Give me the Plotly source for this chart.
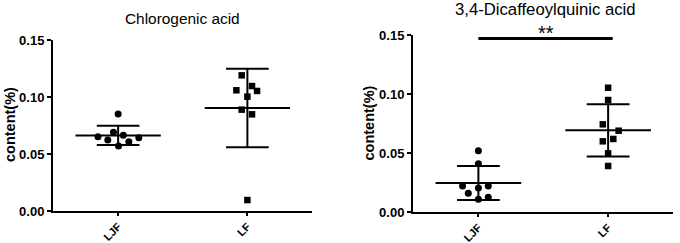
import numpy as np
import plotly.graph_objects as go

# ---- data ----
groups = ["LJF", "LF"]
titles = ["Chlorogenic acid", "3,4-Dicaffeoylquinic acid"]

chloro_ljf = [0.0652, 0.0623, 0.0690, 0.0851, 0.0570, 0.0664, 0.0608, 0.0643]
chloro_lf = [0.1190, 0.1059, 0.1096, 0.1053, 0.1003, 0.0889, 0.0848, 0.0096]
dicq_ljf = [0.0519, 0.0409, 0.0220, 0.0158, 0.0203, 0.0220, 0.0108, 0.0125]
dicq_lf = [0.1053, 0.0949, 0.0743, 0.0689, 0.0599, 0.0619, 0.0497, 0.0390]

y_ticks = [0.00, 0.05, 0.10, 0.15]
sig_label = "**"

# ---- styling / layout positions (not data) ----
jitter_chloro_ljf = [-0.156, -0.08, -0.036, 0.0, 0.003, 0.04, 0.083, 0.16]
jitter_chloro_lf = [-0.044, -0.085, 0.036, 0.075, 0.0, -0.044, 0.036, 0.0]
jitter_dicq_ljf = [0.0, 0.0, -0.122, -0.078, 0.0, 0.076, 0.0, 0.076]
jitter_dicq_lf = [0.0, 0.0, -0.041, 0.081, -0.041, 0.04, 0.0, 0.0]

W, H = 680, 243
FONT = "Liberation Sans, Arial, sans-serif"
MEAN_HW = 0.33
SD_HW = 0.165

fig = go.Figure()

panels = [
    (chloro_ljf, chloro_lf, jitter_chloro_ljf, jitter_chloro_lf, "x", "y"),
    (dicq_ljf, dicq_lf, jitter_dicq_ljf, jitter_dicq_lf, "x2", "y2"),
]

for (a, b, ja, jb, xa, ya) in panels:
    for gi, (vals, jit, sym) in enumerate([(a, ja, "circle"), (b, jb, "square")]):
        v = np.array(vals)
        m = v.mean()
        s = v.std(ddof=1)
        # mean line
        fig.add_trace(go.Scatter(x=[gi - MEAN_HW, gi + MEAN_HW], y=[m, m], mode="lines",
                                 line=dict(color="black", width=2), xaxis=xa, yaxis=ya,
                                 showlegend=False, hoverinfo="skip"))
        # SD vertical + caps
        fig.add_trace(go.Scatter(x=[gi, gi, None, gi - SD_HW, gi + SD_HW, None, gi - SD_HW, gi + SD_HW],
                                 y=[m - s, m + s, None, m + s, m + s, None, m - s, m - s],
                                 mode="lines", line=dict(color="black", width=2),
                                 xaxis=xa, yaxis=ya, showlegend=False, hoverinfo="skip"))
        # points
        fig.add_trace(go.Scatter(x=[gi + j for j in jit], y=vals, mode="markers",
                                 marker=dict(symbol=sym, size=7 if sym == "circle" else 6.5,
                                             color="black", line=dict(width=0)),
                                 xaxis=xa, yaxis=ya, showlegend=False, cliponaxis=False))

# significance bar on right panel
fig.add_trace(go.Scatter(x=[0, 1.035], y=[0.147, 0.147], mode="lines",
                         line=dict(color="black", width=3), xaxis="x2", yaxis="y2",
                         showlegend=False, hoverinfo="skip", cliponaxis=False))
fig.add_annotation(x=0.52, y=0.147, xref="x2", yref="y2", text=sig_label, showarrow=False,
                   xanchor="center", yanchor="middle", yshift=6,
                   font=dict(family=FONT, size=20, color="black"))

xaxis_common = dict(range=[-0.504, 1.5], tickmode="array", tickvals=[0, 1], ticktext=groups,
                    tickangle=-45, ticks="outside", ticklen=3, tickwidth=2, tickcolor="black",
                    showline=True, linecolor="black", linewidth=2, showgrid=False, zeroline=False,
                    automargin=False,
                    tickfont=dict(family=FONT, size=11, color="black", weight="bold"), fixedrange=True)
yaxis_common = dict(range=[0, 0.15], tickmode="array", tickvals=y_ticks,
                    ticktext=[f"{t:.2f}" for t in y_ticks],
                    ticks="outside", ticklen=4, tickwidth=2, tickcolor="black",
                    showline=True, linecolor="black", linewidth=2, showgrid=False, zeroline=False,
                    automargin=False,
                    tickfont=dict(family=FONT, size=13, color="black", weight="bold"), fixedrange=True)

fig.update_layout(
    width=W, height=H,
    margin=dict(l=0, r=0, t=0, b=0, autoexpand=False),
    paper_bgcolor="white", plot_bgcolor="white",
    xaxis=dict(domain=[53 / W, 312 / W], anchor="y", **xaxis_common),
    yaxis=dict(domain=[1 - 211 / H, 1 - 40 / H], anchor="x", **yaxis_common),
    xaxis2=dict(domain=[413 / W, 673 / W], anchor="y2", **xaxis_common),
    yaxis2=dict(domain=[1 - 212 / H, 1 - 35 / H], anchor="x2", **yaxis_common),
)

# titles
fig.add_annotation(x=182.5 / W, y=1 - 19 / H, xref="paper", yref="paper", text=titles[0],
                   xanchor="center", yanchor="middle",
                   showarrow=False, font=dict(family=FONT, size=15.4, color="black"))
fig.add_annotation(x=545 / W, y=1 - 9.5 / H, xref="paper", yref="paper", text=titles[1],
                   xanchor="center", yanchor="middle",
                   showarrow=False, font=dict(family=FONT, size=16.7, color="black"))
# y-axis titles
for xpx, ypx in [(9.5, 124.5), (369, 123.5)]:
    fig.add_annotation(x=xpx / W, y=1 - ypx / H, xref="paper", yref="paper", text="content(%)",
                       xanchor="center", yanchor="middle",
                       textangle=-90, showarrow=False,
                       font=dict(family=FONT, size=14.5, color="black", weight="bold"))

fig.write_html("out.html", config={"displayModeBar": False},
               post_script="document.body.style.margin='0';document.body.style.padding='0';")
